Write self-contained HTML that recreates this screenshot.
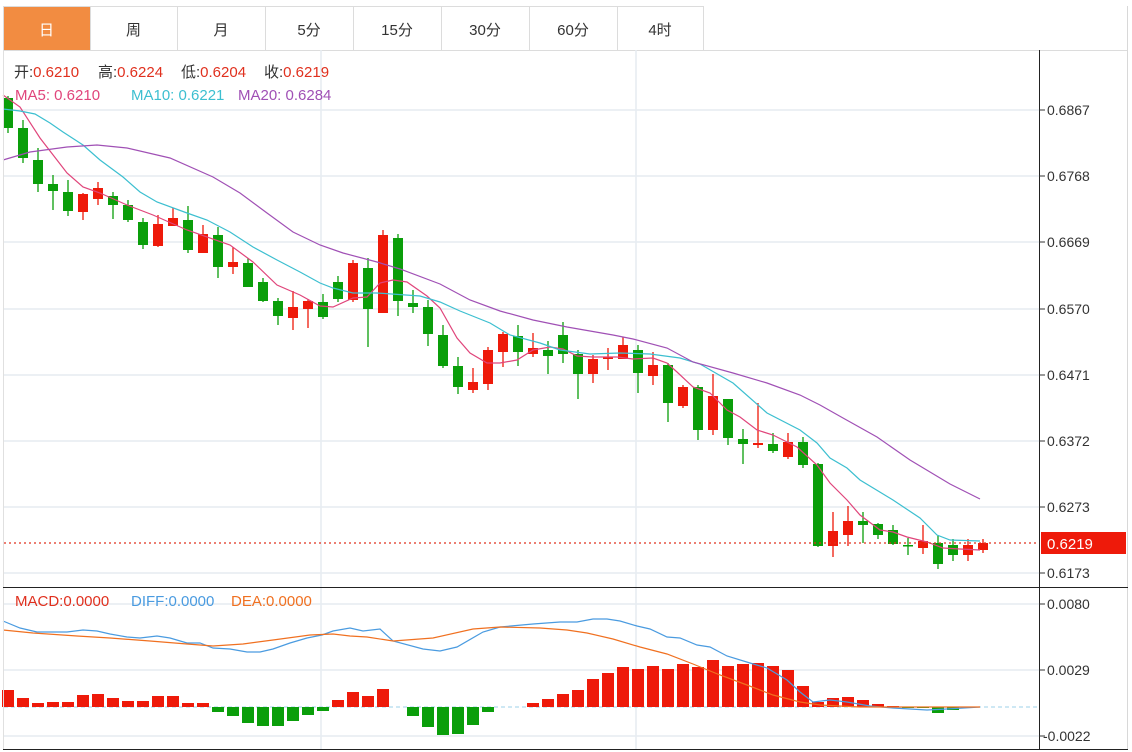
<!DOCTYPE html>
<html><head><meta charset="utf-8">
<style>
html,body{margin:0;padding:0;background:#fff;width:1132px;height:752px;overflow:hidden;font-family:"Liberation Sans","Noto Sans CJK SC",sans-serif}
svg{position:absolute;left:0;top:0}
</style></head><body>
<svg id="s" width="1132" height="752" xmlns="http://www.w3.org/2000/svg" font-family="Liberation Sans, Noto Sans CJK SC, sans-serif">
<g id="tabs"></g>
<g id="grid" stroke="#e6ecf1" stroke-width="1.5"></g>
<g id="c"></g>
<g id="m"></g>
<g id="ax"></g>
<g font-size="15">
<text x="14" y="77" fill="#333">开:<tspan fill="#e0301e">0.6210</tspan></text>
<text x="98" y="77" fill="#333">高:<tspan fill="#e0301e">0.6224</tspan></text>
<text x="181" y="77" fill="#333">低:<tspan fill="#e0301e">0.6204</tspan></text>
<text x="264" y="77" fill="#333">收:<tspan fill="#e0301e">0.6219</tspan></text>
<text x="15" y="100" fill="#e0457b">MA5: 0.6210</text>
<text x="131" y="100" fill="#3cbfd0">MA10: 0.6221</text>
<text x="238" y="100" fill="#a050b5">MA20: 0.6284</text>
<text x="15" y="606" fill="#e0301e">MACD:0.0000</text>
<text x="131" y="606" fill="#4a9be0">DIFF:0.0000</text>
<text x="231" y="606" fill="#f07020">DEA:0.0000</text>
</g>
</svg>
<script>
const NS="http://www.w3.org/2000/svg";
function el(p,t,a,txt){const e=document.createElementNS(NS,t);for(const k in a)e.setAttribute(k,a[k]);if(txt!=null)e.textContent=txt;document.getElementById(p).appendChild(e);return e;}
const tabs=["日","周","月","5分","15分","30分","60分","4时"];
const tx=[3,90,177,265,353,441,529,617,703];
for(let i=0;i<8;i++){
 el("tabs","rect",{x:tx[i]+.5,y:6.5,width:tx[i+1]-tx[i],height:44,fill:i==0?"#f28c41":"#fff",stroke:"#dcdcdc"});
 el("tabs","text",{x:(tx[i]+tx[i+1])/2,y:35,"text-anchor":"middle","font-size":"15",fill:i==0?"#fff":"#333"},tabs[i]);
}
el("ax","line",{x1:3.5,y1:50,x2:3.5,y2:750,stroke:"#e0e0e0"});
el("ax","line",{x1:703,y1:50.5,x2:1127,y2:50.5,stroke:"#dcdcdc"});
el("ax","line",{x1:1127.5,y1:6,x2:1127.5,y2:750,stroke:"#d8d8d8"});
el("ax","line",{x1:1039.5,y1:50,x2:1039.5,y2:750,stroke:"#222"});
el("ax","line",{x1:3,y1:587.5,x2:1128,y2:587.5,stroke:"#222"});
el("ax","line",{x1:3,y1:749.5,x2:1128,y2:749.5,stroke:"#222"});
[110,176,242,309,375,441,507,573,604,670,736].forEach(y=>{el("grid","line",{x1:4,y1:y,x2:1039,y2:y});});
[321,636].forEach(x=>el("grid","line",{x1:x,y1:50,x2:x,y2:749}));
const pl=[["0.6867",110],["0.6768",176],["0.6669",242],["0.6570",309],["0.6471",375],["0.6372",441],["0.6273",507],["0.6173",573],["0.0080",604],["0.0029",670],["-0.0022",736]];
pl.forEach(([t,y])=>{el("ax","line",{x1:1039,y1:y,x2:1045,y2:y,stroke:"#333"});el("ax","text",{x:t[0]=="-"?1043:1047,y:y+5,"font-size":"14",fill:"#333"},t);});
const C=[[98,128,96,133],[128,158,120,163],[160,184,148,192],[184,191,175,210],[192,211,180,216],[212,194,193,220],[199,188,182,205],[196,205,192,219],[205,220,200,222],[222,245,218,249],[246,224,215,247],[226,218,208,226],[220,250,206,253],[253,234,225,253],[235,267,227,278],[267,262,247,274],[263,287,258,287],[282,301,278,302],[301,316,298,325],[318,307,291,330],[309,301,299,328],[302,317,294,319],[282,299,276,302],[300,263,260,302],[268,309,258,347],[313,235,230,313],[238,301,234,316],[303,307,290,313],[307,334,300,346],[335,366,325,368],[366,387,357,394],[390,382,368,393],[384,350,347,390],[352,334,332,367],[336,352,325,366],[354,348,333,357],[350,356,341,374],[335,354,322,363],[354,374,350,399],[374,359,355,383],[359,357,348,370],[359,345,337,359],[350,373,345,393],[376,365,352,385],[365,403,363,422],[406,387,385,408],[387,430,385,440],[430,396,374,435],[399,438,399,445],[439,444,429,464],[445,443,403,448],[444,451,433,453],[457,442,433,459],[442,465,437,468],[464,546,463,547],[546,531,512,557],[535,521,506,546],[521,525,512,543],[524,535,523,539],[530,544,525,545],[545,546,538,555],[548,541,525,554],[543,564,535,569],[545,555,539,561],[555,545,539,561],[550,543,539,553]];
const G="#0a9e0a",R="#ee1a0a";
C.forEach((c,i)=>{const x=8+15*i;const fall=c[1]>=c[0];const col=fall?G:R;
 el("c","line",{x1:x,y1:c[2],x2:x,y2:c[3],stroke:col,"stroke-width":1.3});
 const t=Math.min(c[0],c[1]),h=Math.max(Math.abs(c[1]-c[0]),1.5);
 el("c","rect",{x:x-5,y:t,width:10,height:h,fill:col});});
function pl2(pts,col,w){el("m","polyline",{points:pts.map(p=>p.join(",")).join(" "),fill:"none",stroke:col,"stroke-width":w||1.2});}
pl2([[3,95],[20,107],[40,138],[67,173],[83,187],[100,193],[127,205],[153,215],[187,230],[230,245],[253,262],[277,285],[300,295],[320,306],[333,307],[353,298],[367,297],[380,283],[393,280],[407,282],[427,296],[440,308],[457,338],[470,353],[487,363],[500,363],[517,360],[533,350],[550,347],[563,349],[577,356],[593,357],[617,357],[633,359],[653,358],[667,363],[677,372],[693,387],[710,393],[727,410],[740,417],[757,430],[773,435],[797,447],[817,465],[830,483],[847,500],[860,515],[880,530],[893,532],[907,537],[927,542],[943,548],[960,549],[980,550]],"#e0457b");
pl2([[3,109],[20,111],[35,114],[50,123],[63,132],[83,145],[100,160],[123,177],[140,192],[157,202],[187,213],[207,220],[230,232],[253,247],[277,260],[300,272],[320,283],[333,288],[353,293],[377,293],[420,296],[440,302],[460,311],[490,323],[510,335],[540,343],[560,350],[590,354],[620,353],[650,354],[680,358],[700,364],[733,383],[767,413],[800,430],[817,443],[830,458],[847,468],[860,480],[893,500],[920,518],[937,535],[950,540],[980,541]],"#3cbfd0");
pl2([[3,160],[30,152],[67,147],[97,145],[127,148],[170,158],[213,177],[240,193],[267,213],[293,232],[320,245],[343,253],[377,262],[400,269],[440,284],[470,300],[500,311],[533,320],[567,327],[613,335],[633,339],[667,348],[693,362],[733,373],[767,383],[800,395],[820,405],[843,418],[877,437],[910,460],[950,484],[980,499]],"#a050b5");
el("m","line",{x1:4,y1:543,x2:1039,y2:543,stroke:"#e0301e","stroke-dasharray":"2,3","stroke-width":1.2});
el("m","rect",{x:1041,y:532,width:85,height:22,fill:"#ee1a0a"});
el("m","text",{x:1047,y:549,"font-size":"15",fill:"#fff"},"0.6219");
el("m","line",{x1:4,y1:707,x2:1039,y2:707,stroke:"#9cd0ea","stroke-dasharray":"4,3"});
const H=[690,698,703,702,702,695,694,698,701,701,696,696,703,703,712,716,723,726,726,721,715,711,700,692,696,689,707,716,727,735,734,725,712,707,707,703,699,694,690,679,673,667,669,666,669,664,667,660,666,664,663,666,670,686,702,698,697,700,704,706,708,708,713,710,707,707];
H.forEach((y,i)=>{if(y==707)return;const x=8+15*i;const t=Math.min(y,707),h=Math.abs(y-707);
 el("m","rect",{x:x-6,y:t,width:12,height:h,fill:y<707?R:G});});
pl2([[3,621],[20,628],[37,632],[67,632],[83,630],[97,631],[110,634],[127,637],[140,638],[157,636],[170,638],[187,643],[200,643],[213,648],[230,649],[247,652],[260,652],[273,649],[290,643],[307,638],[322,635],[333,631],[350,628],[363,631],[380,629],[393,641],[423,649],[440,651],[457,647],[483,632],[500,627],[533,624],[560,622],[577,622],[593,619],[607,619],[620,621],[637,626],[650,629],[667,637],[680,638],[697,645],[710,647],[727,656],[750,663],[767,668],[787,680],[800,692],[813,702],[830,700],[847,702],[870,706],[893,708],[927,710],[947,709],[980,707]],"#4a9be0");
pl2([[3,630],[33,633],[77,636],[110,638],[150,641],[187,644],[213,646],[243,644],[273,640],[310,635],[333,634],[350,636],[367,637],[393,641],[433,638],[473,629],[500,627],[540,628],[567,630],[587,633],[613,639],[640,647],[667,654],[693,664],[720,675],[747,685],[773,695],[800,702],[820,705],[860,707],[980,707]],"#f07020");
</script>
</body></html>
